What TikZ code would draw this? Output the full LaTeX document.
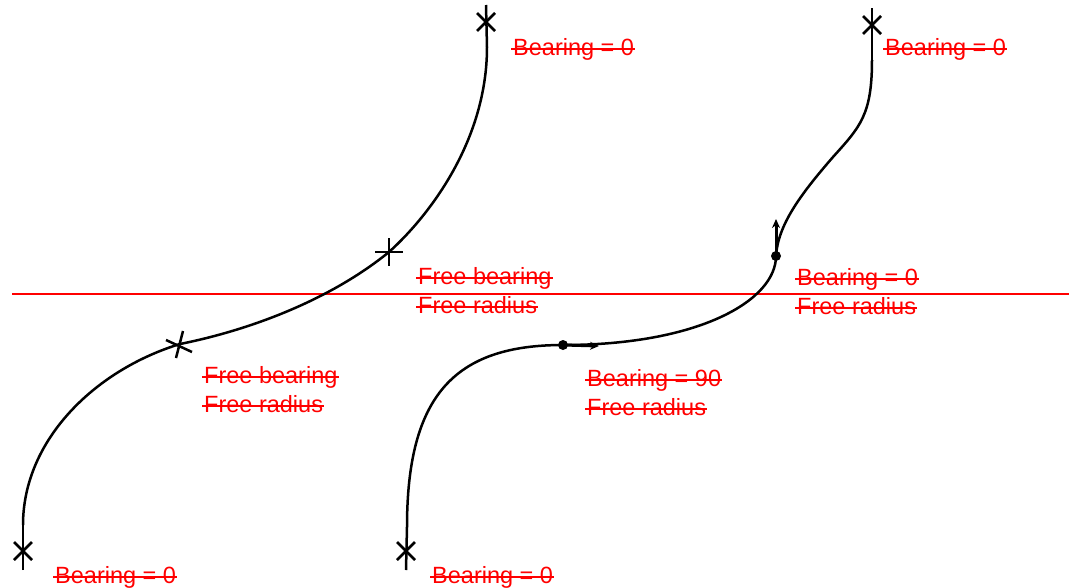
\documentclass[tikz,border=0pt]{standalone}
\usepackage{fontspec}
\setmainfont{Liberation Sans}
\usetikzlibrary{arrows.meta,calc}
\newcommand\strikelbl[1]{\draw[strk] ($(#1.base west)+(-2,-6)$) -- ($(#1.base east)+(1,-6)$);}
\begin{document}
\begin{tikzpicture}[x=1pt,y=-1pt,
  crv/.style={line width=2.5pt,black},
  mk/.style={line width=2.5pt,black},
  lbl/.style={anchor=base west,inner sep=0pt,text=red,font=\fontsize{23.5}{29}\selectfont},
  strk/.style={red,line width=1.6pt},
  redline/.style={red,line width=1.5pt},
  dotm/.style={circle,fill=black,inner sep=0pt,minimum size=10pt},
  vec/.style={line width=3pt,-{Stealth[length=9pt,width=8pt]}},
  xmk/.pic={\draw[mk] (-9,-9)--(9,9) (-9,9)--(9,-9);},
  pmk/.pic={\draw[mk] (-14,0)--(14,0) (0,-14)--(0,14);}]
\useasboundingbox (0,0) rectangle (1069,587);

% reference line
\coordinate (rl) at (12,294);
\coordinate (rr) at (1069,294);
\draw[redline] (rl) -- (rr);

% ---------- left path ----------
\coordinate (a0) at (23,551);
\coordinate (a0t) at (23,570);
\coordinate (a0s) at (23,525);
\coordinate (a1) at (180,344);
\coordinate (a2) at (389,252);
\coordinate (a3s) at (487,47);
\coordinate (a3) at (486,22);
\coordinate (a3t) at (486,5);

\pic at (a0) {xmk};
\draw[mk] (a0t) -- (a0s);
\draw[crv] (a0s) .. controls (23,440) and (95,370) .. (a1);
\draw[crv] (a1) .. controls (250,330) and (330,300) .. (a2);
\draw[crv] (a2) .. controls (430,215) and (487,140) .. (a3s);
\draw[mk] (a3s) -- (a3t);
\pic at (a3) {xmk};
\draw[mk] (166,340) -- (192,352) (183,331) -- (176,358);
\pic at (a2) {pmk};

% ---------- right path ----------
\coordinate (b0) at (406,551);
\coordinate (b0t) at (406,570);
\coordinate (b0s) at (407,527);
\node[dotm] (b1) at (563,345) {};
\node[dotm] (b2) at (776,256) {};
\coordinate (bm) at (833,157);
\coordinate (b3s) at (872,60);
\coordinate (b3) at (872,25);
\coordinate (b3t) at (872,8);
\coordinate (v1) at (599,346);
\coordinate (v2) at (776,219);

\pic at (b0) {xmk};
\draw[mk] (b0t) -- (b0s);
\draw[crv] (b0s) .. controls (407,395) and (455,345) .. (b1.center);
\draw[crv] (b1.center) .. controls (700,345) and (776,300) .. (b2.center);
\draw[crv] (b2.center) .. controls (778,225) and (800,195) .. (bm)
  .. controls (860,127) and (872,115) .. (b3s);
\draw[mk] (b3s) -- (b3t);
\pic at (b3) {xmk};
\draw[vec] (b1.center) -- (v1);
\draw[vec] (b2.center) -- (v2);

% ---------- labels ----------
\node[lbl] (t1) at (55,583) {Bearing = 0};
\node[lbl] (t2) at (432,583) {Bearing = 0};
\node[lbl] (t3) at (513,55) {Bearing = 0};
\node[lbl] (t4) at (885,55) {Bearing = 0};
\node[lbl] (t5) at (418,284) {Free bearing};
\node[lbl] (t6) at (418,313) {Free radius};
\node[lbl] (t7) at (204,383) {Free bearing};
\node[lbl] (t8) at (204,412) {Free radius};
\node[lbl] (t9) at (587,386) {Bearing = 90};
\node[lbl] (t10) at (587,415) {Free radius};
\node[lbl] (t11) at (797,285) {Bearing = 0};
\node[lbl] (t12) at (797,314) {Free radius};
\foreach \n in {t1,t2,t3,t4,t5,t6,t7,t8,t9,t10,t11,t12}{\strikelbl{\n}}
\end{tikzpicture}
\end{document}
